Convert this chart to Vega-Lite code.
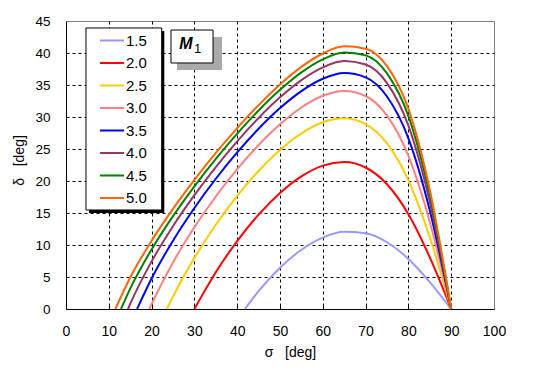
{
  "$schema": "https://vega.github.io/schema/vega-lite/v6.json",
  "width": 428,
  "height": 288,
  "autosize": {"type": "none"},
  "padding": {"left": 66, "top": 21, "right": 53, "bottom": 68},
  "background": "white",
  "config": {
    "view": {"stroke": "#808080", "strokeWidth": 1},
    "font": "Liberation Sans"
  },
  "datasets": {
    "curves": [
      {"M": "1.5", "sigma": 41.81, "delta": 0}, {"M": "1.5", "sigma": 45, "delta": 2.78}, {"M": "1.5", "sigma": 50, "delta": 6.44}, {"M": "1.5", "sigma": 55, "delta": 9.26}, {"M": "1.5", "sigma": 60, "delta": 11.16}, {"M": "1.5", "sigma": 65, "delta": 12.06}, {"M": "1.5", "sigma": 70, "delta": 11.84}, {"M": "1.5", "sigma": 75, "delta": 10.43}, {"M": "1.5", "sigma": 80, "delta": 7.82}, {"M": "1.5", "sigma": 85, "delta": 4.21}, {"M": "1.5", "sigma": 90, "delta": 0},
      {"M": "2.0", "sigma": 30, "delta": 0}, {"M": "2.0", "sigma": 35, "delta": 5.75}, {"M": "2.0", "sigma": 40, "delta": 10.62}, {"M": "2.0", "sigma": 45, "delta": 14.74}, {"M": "2.0", "sigma": 50, "delta": 18.13}, {"M": "2.0", "sigma": 55, "delta": 20.73}, {"M": "2.0", "sigma": 60, "delta": 22.41}, {"M": "2.0", "sigma": 65, "delta": 22.97}, {"M": "2.0", "sigma": 70, "delta": 22.11}, {"M": "2.0", "sigma": 75, "delta": 19.49}, {"M": "2.0", "sigma": 80, "delta": 14.81}, {"M": "2.0", "sigma": 85, "delta": 8.08}, {"M": "2.0", "sigma": 90, "delta": 0},
      {"M": "2.5", "sigma": 23.58, "delta": 0}, {"M": "2.5", "sigma": 25, "delta": 1.93}, {"M": "2.5", "sigma": 30, "delta": 7.99}, {"M": "2.5", "sigma": 35, "delta": 13.17}, {"M": "2.5", "sigma": 40, "delta": 17.68}, {"M": "2.5", "sigma": 45, "delta": 21.57}, {"M": "2.5", "sigma": 50, "delta": 24.85}, {"M": "2.5", "sigma": 55, "delta": 27.44}, {"M": "2.5", "sigma": 60, "delta": 29.18}, {"M": "2.5", "sigma": 65, "delta": 29.8}, {"M": "2.5", "sigma": 70, "delta": 28.89}, {"M": "2.5", "sigma": 75, "delta": 25.88}, {"M": "2.5", "sigma": 80, "delta": 20.1}, {"M": "2.5", "sigma": 85, "delta": 11.21}, {"M": "2.5", "sigma": 90, "delta": 0},
      {"M": "3.0", "sigma": 19.47, "delta": 0}, {"M": "3.0", "sigma": 20, "delta": 0.77}, {"M": "3.0", "sigma": 25, "delta": 7.28}, {"M": "3.0", "sigma": 30, "delta": 12.77}, {"M": "3.0", "sigma": 35, "delta": 17.58}, {"M": "3.0", "sigma": 40, "delta": 21.85}, {"M": "3.0", "sigma": 45, "delta": 25.62}, {"M": "3.0", "sigma": 50, "delta": 28.86}, {"M": "3.0", "sigma": 55, "delta": 31.49}, {"M": "3.0", "sigma": 60, "delta": 33.32}, {"M": "3.0", "sigma": 65, "delta": 34.07}, {"M": "3.0", "sigma": 70, "delta": 33.28}, {"M": "3.0", "sigma": 75, "delta": 30.22}, {"M": "3.0", "sigma": 80, "delta": 23.93}, {"M": "3.0", "sigma": 85, "delta": 13.6}, {"M": "3.0", "sigma": 90, "delta": 0},
      {"M": "3.5", "sigma": 16.6, "delta": 0}, {"M": "3.5", "sigma": 20, "delta": 4.77}, {"M": "3.5", "sigma": 25, "delta": 10.68}, {"M": "3.5", "sigma": 30, "delta": 15.78}, {"M": "3.5", "sigma": 35, "delta": 20.35}, {"M": "3.5", "sigma": 40, "delta": 24.46}, {"M": "3.5", "sigma": 45, "delta": 28.16}, {"M": "3.5", "sigma": 50, "delta": 31.39}, {"M": "3.5", "sigma": 55, "delta": 34.05}, {"M": "3.5", "sigma": 60, "delta": 35.97}, {"M": "3.5", "sigma": 65, "delta": 36.86}, {"M": "3.5", "sigma": 70, "delta": 36.19}, {"M": "3.5", "sigma": 75, "delta": 33.2}, {"M": "3.5", "sigma": 80, "delta": 26.67}, {"M": "3.5", "sigma": 85, "delta": 15.4}, {"M": "3.5", "sigma": 90, "delta": 0},
      {"M": "4.0", "sigma": 14.48, "delta": 0}, {"M": "4.0", "sigma": 15, "delta": 0.8}, {"M": "4.0", "sigma": 20, "delta": 7.44}, {"M": "4.0", "sigma": 25, "delta": 12.94}, {"M": "4.0", "sigma": 30, "delta": 17.78}, {"M": "4.0", "sigma": 35, "delta": 22.18}, {"M": "4.0", "sigma": 40, "delta": 26.2}, {"M": "4.0", "sigma": 45, "delta": 29.85}, {"M": "4.0", "sigma": 50, "delta": 33.07}, {"M": "4.0", "sigma": 55, "delta": 35.77}, {"M": "4.0", "sigma": 60, "delta": 37.76}, {"M": "4.0", "sigma": 65, "delta": 38.74}, {"M": "4.0", "sigma": 70, "delta": 38.2}, {"M": "4.0", "sigma": 75, "delta": 35.3}, {"M": "4.0", "sigma": 80, "delta": 28.66}, {"M": "4.0", "sigma": 85, "delta": 16.76}, {"M": "4.0", "sigma": 90, "delta": 0},
      {"M": "4.5", "sigma": 12.84, "delta": 0}, {"M": "4.5", "sigma": 15, "delta": 3.18}, {"M": "4.5", "sigma": 20, "delta": 9.31}, {"M": "4.5", "sigma": 25, "delta": 14.51}, {"M": "4.5", "sigma": 30, "delta": 19.17}, {"M": "4.5", "sigma": 35, "delta": 23.46}, {"M": "4.5", "sigma": 40, "delta": 27.41}, {"M": "4.5", "sigma": 45, "delta": 31.02}, {"M": "4.5", "sigma": 50, "delta": 34.24}, {"M": "4.5", "sigma": 55, "delta": 36.97}, {"M": "4.5", "sigma": 60, "delta": 39.01}, {"M": "4.5", "sigma": 65, "delta": 40.07}, {"M": "4.5", "sigma": 70, "delta": 39.63}, {"M": "4.5", "sigma": 75, "delta": 36.81}, {"M": "4.5", "sigma": 80, "delta": 30.14}, {"M": "4.5", "sigma": 85, "delta": 17.8}, {"M": "4.5", "sigma": 90, "delta": 0},
      {"M": "5.0", "sigma": 11.54, "delta": 0}, {"M": "5.0", "sigma": 15, "delta": 4.91}, {"M": "5.0", "sigma": 20, "delta": 10.67}, {"M": "5.0", "sigma": 25, "delta": 15.64}, {"M": "5.0", "sigma": 30, "delta": 20.17}, {"M": "5.0", "sigma": 35, "delta": 24.38}, {"M": "5.0", "sigma": 40, "delta": 28.27}, {"M": "5.0", "sigma": 45, "delta": 31.86}, {"M": "5.0", "sigma": 50, "delta": 35.09}, {"M": "5.0", "sigma": 55, "delta": 37.83}, {"M": "5.0", "sigma": 60, "delta": 39.92}, {"M": "5.0", "sigma": 65, "delta": 41.04}, {"M": "5.0", "sigma": 70, "delta": 40.68}, {"M": "5.0", "sigma": 75, "delta": 37.94}, {"M": "5.0", "sigma": 80, "delta": 31.26}, {"M": "5.0", "sigma": 85, "delta": 18.6}, {"M": "5.0", "sigma": 90, "delta": 0}
    ],
    "legendShadow": [{"sigma": 5.37, "sigma2": 22.97, "delta": 43.44, "delta2": 15.0}],
    "legendBox": [{"sigma": 4.67, "sigma2": 22.36, "delta": 43.91, "delta2": 15.47}],
    "boxShadow": [{"sigma": 25.93, "sigma2": 36.45, "delta": 42.5, "delta2": 37.34}],
    "box": [{"sigma": 24.53, "sigma2": 34.35, "delta": 43.59, "delta2": 38.44}],
    "labelM": [{"sigma": 28.04, "delta": 40.63, "t": "M"}],
    "labelSub": [{"sigma": 29.9, "delta": 40.0, "t": "1"}]
  },
  "encoding": {
    "x": {
      "field": "sigma", "type": "quantitative",
      "scale": {"domain": [0, 100], "nice": false},
      "axis": {
        "values": [0, 10, 20, 30, 40, 50, 60, 70, 80, 90, 100],
        "tickCount": 20,
        "title": "σ\u00a0\u00a0\u00a0[deg]",
        "grid": true, "gridColor": "black", "gridDash": [3, 3], "gridWidth": 1,
        "gridOpacity": {"condition": {"test": "datum.value === 0 || datum.value === 100", "value": 0}, "value": 1},
        "ticks": true, "tickSize": -5, "tickColor": "black",
        "tickOpacity": {"condition": {"test": "datum.value === 0 || datum.value === 100", "value": 0}, "value": 1},
        "domainColor": "black",
        "labelFont": "Liberation Sans", "labelFontSize": 14, "labelColor": "black", "labelPadding": 20, "labelFlush": false, "labelOverlap": false,
        "titleFont": "Liberation Sans", "titleFontSize": 14, "titleFontWeight": "normal", "titleColor": "black",
        "titleX": 224, "titleY": 43, "titleBaseline": "middle", "titleAlign": "center"
      }
    },
    "y": {
      "field": "delta", "type": "quantitative",
      "scale": {"domain": [0, 45], "nice": false},
      "axis": {
        "values": [0, 5, 10, 15, 20, 25, 30, 35, 40, 45],
        "tickCount": 20,
        "title": "δ\u00a0\u00a0\u00a0[deg]",
        "grid": true, "gridColor": "black", "gridDash": [3, 3], "gridWidth": 1,
        "gridOpacity": {"condition": {"test": "datum.value === 0 || datum.value === 45", "value": 0}, "value": 1},
        "ticks": false,
        "domainColor": "black",
        "labelFont": "Liberation Sans", "labelFontSize": 13.5, "labelColor": "black", "labelPadding": 16, "labelOverlap": false, "labelFlush": false,
        "titleFont": "Liberation Sans", "titleFontSize": 14, "titleFontWeight": "normal", "titleColor": "black",
        "titleX": -47, "titleY": 139, "titleAngle": -90, "titleBaseline": "middle", "titleAlign": "center"
      }
    }
  },
  "layer": [
    {
      "data": {"name": "curves"},
      "mark": {"type": "line", "strokeWidth": 2, "interpolate": "monotone"},
      "encoding": {
        "color": {
          "field": "M", "type": "nominal",
          "scale": {
            "domain": ["1.5", "2.0", "2.5", "3.0", "3.5", "4.0", "4.5", "5.0"],
            "range": ["#9999FF", "#FF0000", "#FFCC00", "#FF8080", "#0000FF", "#993366", "#008000", "#FF6600"]
          },
          "legend": {
            "orient": "none", "legendX": 20, "legendY": 7, "title": null,
            "padding": 4,
            "symbolType": "M-1.6,0H1.6", "symbolSize": 225, "symbolStrokeWidth": 2, "symbolOffset": 13.5,
            "labelFont": "Liberation Sans", "labelFontSize": 15, "labelColor": "black", "labelOffset": 5.5,
            "rowPadding": 5.5
          }
        }
      }
    },
    {
      "data": {"name": "legendShadow"},
      "mark": {"type": "rect", "color": "black"},
      "encoding": {"x2": {"field": "sigma2"}, "y2": {"field": "delta2"}}
    },
    {
      "data": {"name": "legendBox"},
      "mark": {"type": "rect", "fill": "white", "stroke": "black", "strokeWidth": 1},
      "encoding": {"x2": {"field": "sigma2"}, "y2": {"field": "delta2"}}
    },
    {
      "data": {"name": "boxShadow"},
      "mark": {"type": "rect", "color": "#aaaaaa"},
      "encoding": {"x2": {"field": "sigma2"}, "y2": {"field": "delta2"}}
    },
    {
      "data": {"name": "box"},
      "mark": {"type": "rect", "fill": "white", "stroke": "black", "strokeWidth": 1},
      "encoding": {"x2": {"field": "sigma2"}, "y2": {"field": "delta2"}}
    },
    {
      "data": {"name": "labelM"},
      "mark": {"type": "text", "font": "Liberation Sans", "fontSize": 16, "fontStyle": "italic", "fontWeight": "bold", "color": "black", "align": "center", "baseline": "alphabetic"},
      "encoding": {"text": {"field": "t"}}
    },
    {
      "data": {"name": "labelSub"},
      "mark": {"type": "text", "font": "Liberation Sans", "fontSize": 13, "color": "black", "align": "left", "baseline": "alphabetic"},
      "encoding": {"text": {"field": "t"}}
    }
  ]
}
